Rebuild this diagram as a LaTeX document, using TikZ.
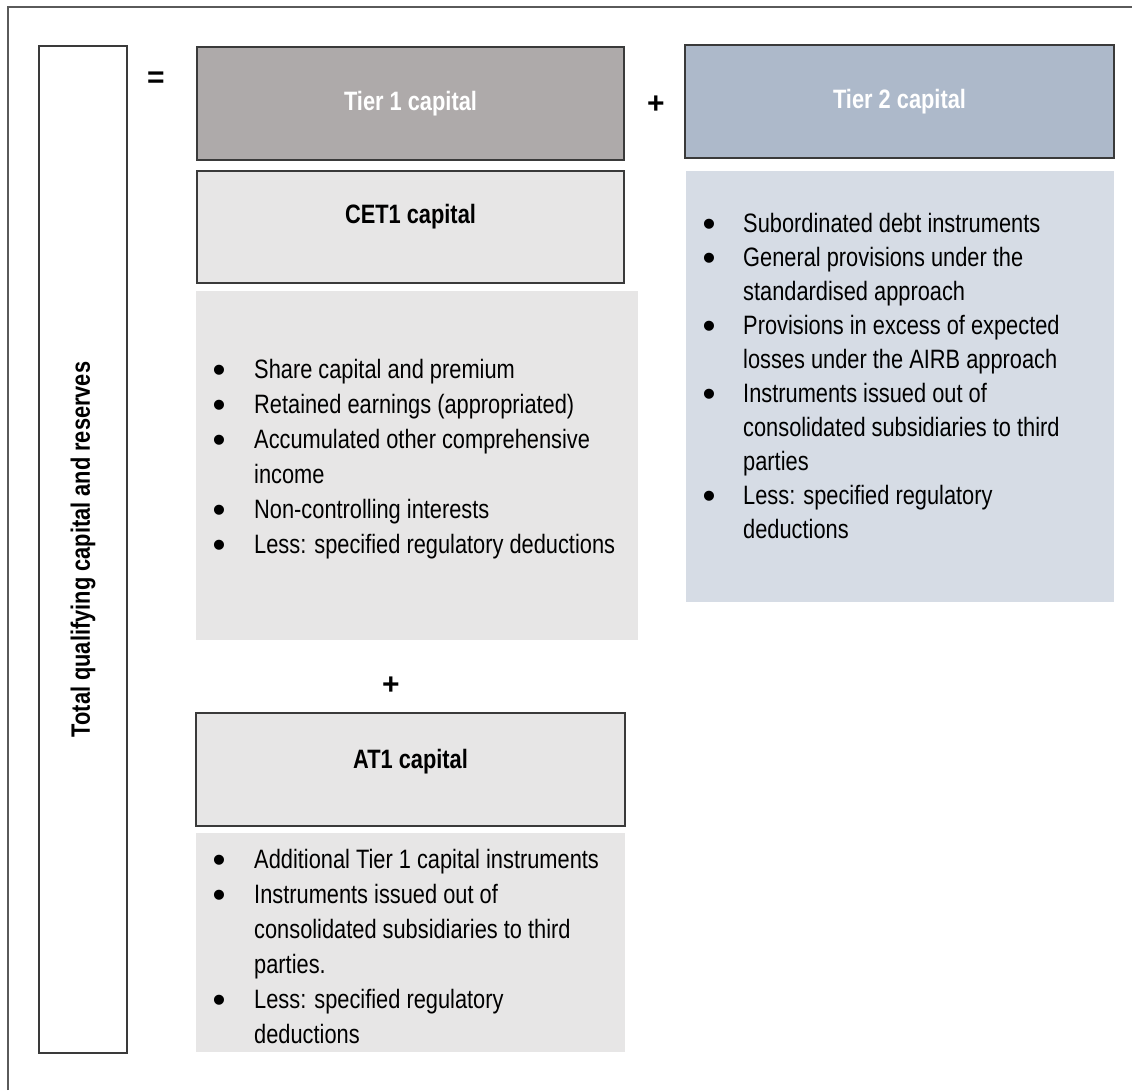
\documentclass[tikz,border=0pt]{standalone}
\usepackage{fontspec}
\setmainfont{Liberation Sans}[FakeStretch=0.82]
\newfontfamily\plainfont{Liberation Sans}
\usepackage{array}
\definecolor{bordc}{HTML}{3A3A3A}
\definecolor{frame}{HTML}{5A5A5A}
\definecolor{tieronefill}{HTML}{AEAAAA}
\definecolor{tiertwofill}{HTML}{ADB9CA}
\definecolor{tiertwolist}{HTML}{D6DCE5}
\definecolor{lightgray}{HTML}{E7E6E6}
\newcommand{\bfont}{\fontsize{26.6}{35}\selectfont}
\newcommand{\bfontb}{\fontsize{26.6}{34}\selectfont}
\newcommand{\bul}{\raisebox{-4.5pt}{\plainfont\fontsize{37}{35}\selectfont\textbullet}}
\begin{document}
\begin{tikzpicture}[x=1pt,y=-1pt,
  box/.style={draw=bordc, line width=1.5pt, inner sep=0pt, outer sep=0pt, anchor=north west},
  listbox/.style={inner sep=0pt, outer sep=0pt, anchor=north west},
  head/.style={font=\bfont\bfseries, anchor=base, inner sep=0pt},
  sign/.style={font=\plainfont\fontsize{30}{30}\selectfont\bfseries, inner sep=0pt},
  lst/.style={anchor=base west, inner sep=0pt, align=left}
]
\useasboundingbox (0,0) rectangle (1132,1090);
\fill[white] (0,0) rectangle (1132,1090);
\draw[frame, line width=1.5pt] (8,1090) -- (8,7) -- (1132,7);

% left box
\node[box, fill=white, minimum width=88pt, minimum height=1007pt] (total) at (39,46) {};
\node[font=\bfont\bfseries, rotate=90, inner sep=0pt] (totaltxt) at (total.center) {Total qualifying capital and reserves};

% equals
\node[sign] (eq) at (156,80) {=};

% Tier 1
\node[box, fill=tieronefill, minimum width=427pt, minimum height=113pt] (tier1) at (197,47) {};
\node[head, text=white] (tier1txt) at (410.5,110) {Tier 1 capital};

% CET1
\node[box, fill=lightgray, minimum width=427pt, minimum height=112pt] (cet1) at (197,171) {};
\node[head] (cet1txt) at (410.5,223) {CET1 capital};
\node[listbox, fill=lightgray, minimum width=442pt, minimum height=349pt] (cet1list) at (196,291) {};
\node[lst, font=\bfont] (cet1items) at (212.5,378) {%
\begin{tabular}[t]{@{}p{41.5pt}@{}l@{}}
\bul & Share capital and premium\\
\bul & Retained earnings (appropriated)\\
\bul & Accumulated other comprehensive\\
 & income\\
\bul & Non-controlling interests\\
\bul & Less: specified regulatory deductions
\end{tabular}};

% plus
\node[sign] (plusa) at (391,686) {+};

% AT1
\node[box, fill=lightgray, minimum width=429pt, minimum height=113pt] (at1) at (196,713) {};
\node[head] (at1txt) at (410.5,768) {AT1 capital};
\node[listbox, fill=lightgray, minimum width=429pt, minimum height=219pt] (at1list) at (196,833) {};
\node[lst, font=\bfont] (at1items) at (212.5,868) {%
\begin{tabular}[t]{@{}p{41.5pt}@{}l@{}}
\bul & Additional Tier 1 capital instruments\\
\bul & Instruments issued out of\\
 & consolidated subsidiaries to third\\
 & parties.\\
\bul & Less: specified regulatory\\
 & deductions
\end{tabular}};

% plus top
\node[sign] (plusb) at (656,105) {+};

% Tier 2
\node[box, fill=tiertwofill, minimum width=429pt, minimum height=113pt] (tier2) at (685,45) {};
\node[head, text=white] (tier2txt) at (899.5,108) {Tier 2 capital};
\node[listbox, fill=tiertwolist, minimum width=428pt, minimum height=431pt] (tier2list) at (686,171) {};
\node[lst, font=\bfontb] (tier2items) at (702.5,232) {%
\begin{tabular}[t]{@{}p{40.5pt}@{}l@{}}
\bul & Subordinated debt instruments\\
\bul & General provisions under the\\
 & standardised approach\\
\bul & Provisions in excess of expected\\
 & losses under the AIRB approach\\
\bul & Instruments issued out of\\
 & consolidated subsidiaries to third\\
 & parties\\
\bul & Less: specified regulatory\\
 & deductions
\end{tabular}};
\end{tikzpicture}
\end{document}
